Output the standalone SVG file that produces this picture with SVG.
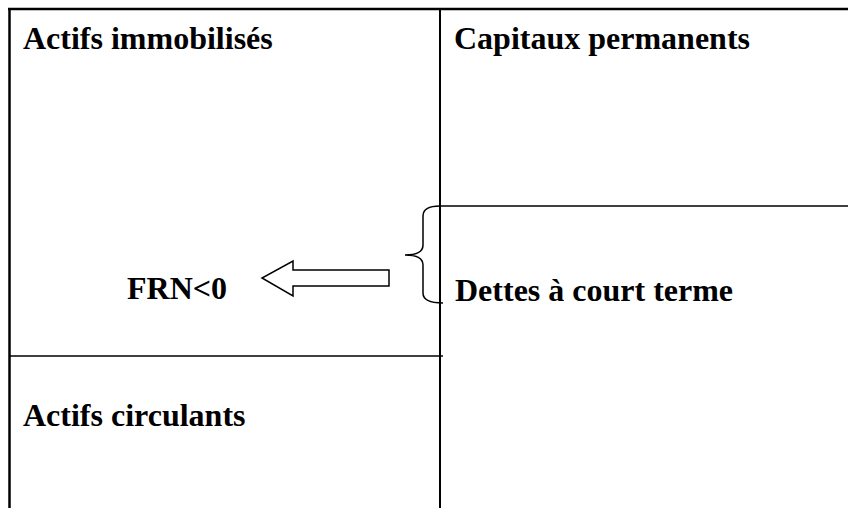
<svg xmlns="http://www.w3.org/2000/svg" width="848" height="508" viewBox="0 0 848 508">
<style>
.t{font-family:"Liberation Serif","Times New Roman",serif;font-weight:bold;font-size:32px;fill:#000}
.ln{stroke:#000;fill:none}
</style>
<rect width="848" height="508" fill="#fff"/>
<g id="frame">
<line class="ln" x1="8" y1="9" x2="848" y2="9" stroke-width="2.5"/>
<line class="ln" x1="9.5" y1="8" x2="9.5" y2="508" stroke-width="2.5"/>
<line class="ln" x1="440" y1="9" x2="440" y2="508" stroke-width="2"/>
<line class="ln" x1="440" y1="206" x2="848" y2="206" stroke-width="1.5"/>
<line class="ln" x1="9" y1="356" x2="443" y2="356" stroke-width="1.5"/>
</g>
<g id="actifs-immobilises"><text class="t" x="23" y="49">Actifs immobilisés</text></g>
<g id="capitaux-permanents"><text class="t" x="454" y="49">Capitaux permanents</text></g>
<g id="dettes-court-terme"><text class="t" x="455" y="301">Dettes à court terme</text></g>
<g id="actifs-circulants"><text class="t" x="23" y="426">Actifs circulants</text></g>
<g id="frn"><text class="t" x="127" y="299">FRN&lt;0</text></g>
<g id="connectors">
<path class="ln" stroke-width="1.5" d="M389,270 L293,270 L293,261 L262,278 L293,296 L293,286 L389,286 Z"/>
<path class="ln" stroke-width="1.5" d="M440,206 Q423,206 423,216 L423,245 Q423,255 405,255 Q423,255 423,265 L423,293 Q423,303 443,303"/>
</g>
</svg>
